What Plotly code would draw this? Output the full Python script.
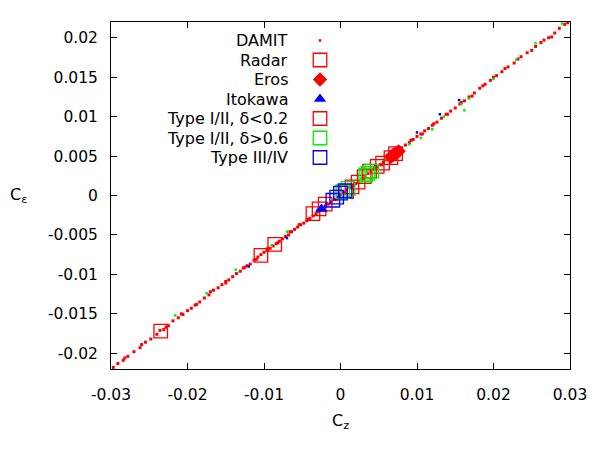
import plotly.graph_objects as go

# ---------------- data ----------------
damit_red_x = [-0.0297, -0.0291, -0.0284, -0.0278, -0.0270, -0.0262, -0.0255, -0.0248, -0.0240, -0.0236,
               -0.0231, -0.0225, -0.0219, -0.0212, -0.0206, -0.0200, -0.0195, -0.0190, -0.0184, -0.0178,
               -0.0172, -0.0166, -0.0160, -0.0155, -0.0150, -0.0146, -0.0141, -0.0136, -0.0131, -0.0127,
               -0.0122, -0.0118, -0.0113, -0.0108, -0.0104, -0.0100, -0.0096, -0.0092, -0.0088, -0.0084,
               -0.0080, -0.0076, -0.0072, -0.0068, -0.0064, -0.0060, -0.0056, -0.0052, -0.0048, -0.0044,
               -0.0040, -0.0036, -0.0032, -0.0028, -0.0024, -0.0020, -0.0016, -0.0012, -0.0008, -0.0004,
               0.0000, 0.0004, 0.0008, 0.0012, 0.0016, 0.0020, 0.0024, 0.0028, 0.0032, 0.0036,
               0.0040, 0.0044, 0.0048, 0.0052, 0.0056, 0.0060, 0.0064, 0.0068, 0.0072, 0.0076,
               0.0080, 0.0085, 0.0090, 0.0095, 0.0100, 0.0105, 0.0110, 0.0115, 0.0120, 0.0126,
               0.0132, 0.0138, 0.0144, 0.0150, 0.0156, 0.0162, 0.0168, 0.0175, 0.0182, 0.0189,
               0.0196, 0.0204, 0.0211, 0.0219, 0.0227, 0.0236, 0.0244, 0.0255, 0.0266, 0.0272,
               0.0280, 0.0286, 0.0293, 0.0297,
               -0.0125, -0.0110, -0.0095, -0.0082, -0.0066, -0.0054, -0.0042, -0.0030, -0.0018, -0.0006,
               0.0006, 0.0018, 0.0030, 0.0042, 0.0054, 0.0066, 0.0078, 0.0092, 0.0107, 0.0122,
               0.0140, 0.0158, 0.0172, 0.0186, 0.0200, 0.0215, 0.0232, 0.0250, 0.0262, 0.0276,
               -0.0150, -0.0170, -0.0188, -0.0208, -0.0228, -0.0260, -0.0282]
damit_red_y = [-0.0218, -0.0213, -0.0209, -0.0204, -0.0198, -0.0193, -0.0186, -0.0182, -0.0176, -0.0171,
               -0.0170, -0.0165, -0.0159, -0.0155, -0.0151, -0.0146, -0.0143, -0.0139, -0.0135, -0.0130,
               -0.0126, -0.0120, -0.0117, -0.0113, -0.0109, -0.0107, -0.0103, -0.0099, -0.0096, -0.0092,
               -0.0089, -0.0087, -0.0082, -0.0078, -0.0075, -0.0072, -0.0070, -0.0067, -0.0064, -0.0061,
               -0.0058, -0.0055, -0.0052, -0.0050, -0.0046, -0.0043, -0.0040, -0.0037, -0.0035, -0.0032,
               -0.0029, -0.0026, -0.0023, -0.0020, -0.0017, -0.0014, -0.0011, -0.0008, -0.0005, -0.0002,
               0.0001, 0.0004, 0.0007, 0.0010, 0.0012, 0.0015, 0.0018, 0.0021, 0.0025, 0.0028,
               0.0031, 0.0034, 0.0036, 0.0039, 0.0042, 0.0045, 0.0048, 0.0051, 0.0054, 0.0056,
               0.0059, 0.0064, 0.0067, 0.0071, 0.0075, 0.0078, 0.0082, 0.0085, 0.0089, 0.0093,
               0.0098, 0.0103, 0.0107, 0.0111, 0.0116, 0.0120, 0.0125, 0.0130, 0.0136, 0.0141,
               0.0146, 0.0152, 0.0157, 0.0163, 0.0168, 0.0176, 0.0181, 0.0189, 0.0197, 0.0200,
               0.0206, 0.0212, 0.0217, 0.0219,
               -0.0091, -0.0081, -0.0067, -0.0060, -0.0046, -0.0037, -0.0030, -0.0020, -0.0010, -0.0005,
               0.0003, 0.0015, 0.0021, 0.0033, 0.0039, 0.0051, 0.0057, 0.0070, 0.0078, 0.0091,
               0.0103, 0.0118, 0.0126, 0.0139, 0.0150, 0.0161, 0.0173, 0.0184, 0.0194, 0.0201,
               -0.0111, -0.0122, -0.0138, -0.0150, -0.0167, -0.0189, -0.0206]

damit_green_x = [-0.0216, -0.0175, -0.0137, -0.0090, -0.0070, -0.0030, 0.0010, 0.0035, 0.0060, 0.0090,
                 0.0105, 0.0120, 0.0135, 0.0162, 0.0158, 0.0168, 0.0200, 0.0230, 0.0255, 0.0290]
damit_green_y = [-0.0152, -0.0124, -0.0094, -0.0063, -0.0046, -0.0018, 0.0010, 0.0030, 0.0046, 0.0065,
                 0.0073, 0.0084, 0.0100, 0.0108, 0.0116, 0.0123, 0.0148, 0.0172, 0.0193, 0.0218]

damit_blue_x = [-0.0120, -0.0070, -0.0020, 0.0045, 0.0100, 0.0130, 0.0155]
damit_blue_y = [-0.0090, -0.0054, -0.0013, 0.0037, 0.0080, 0.0103, 0.0121]

radar_x = [-0.0235, -0.0104, -0.0086, -0.0036, 0.0015, 0.0031, 0.0048, 0.0066]
radar_y = [-0.0172, -0.0076, -0.0062, -0.0023, 0.0011, 0.0024, 0.0037, 0.0048]

eros_x = [0.0066, 0.0068, 0.0070, 0.0073, 0.0076]
eros_y = [0.0049, 0.0051, 0.0052, 0.0054, 0.0056]

itokawa_x = [-0.0025]
itokawa_y = [-0.0017]

type12_low_x = [-0.0028, -0.0020, 0.0008, 0.0023, 0.0038, 0.0055, 0.0072]
type12_low_y = [-0.0017, -0.0011, 0.0005, 0.0017, 0.0031, 0.0041, 0.0053]

type12_high_x = [0.0003, 0.0010, 0.0033, 0.0036, 0.0041]
type12_high_y = [0.0005, 0.0009, 0.0026, 0.0028, 0.0031]

type34_x = [-0.0010, -0.0005, 0.0000, 0.0006]
type34_y = [-0.0006, -0.0002, 0.0003, 0.0006]

legend_labels = ["DAMIT", "Radar", "Eros", "Itokawa",
                 "Type I/II, δ<0.2", "Type I/II, δ>0.6", "Type III/IV"]

x_ticks = [-0.03, -0.02, -0.01, 0, 0.01, 0.02, 0.03]
x_ticktext = ["-0.03", "-0.02", "-0.01", "0", "0.01", "0.02", "0.03"]
y_ticks = [-0.02, -0.015, -0.01, -0.005, 0, 0.005, 0.01, 0.015, 0.02]
y_ticktext = ["-0.02", "-0.015", "-0.01", "-0.005", "0", "0.005", "0.01", "0.015", "0.02"]

# ---------------- styling ----------------
RED = "#ff0000"
GREEN = "#00ee00"
BLUE = "#0000ff"
FONT = "DejaVu Sans"
FS = 15.5

fig = go.Figure()

def add(x, y, **marker):
    fig.add_trace(go.Scatter(x=x, y=y, mode="markers", marker=marker,
                             showlegend=False, hoverinfo="skip"))

add(damit_red_x, damit_red_y, symbol="square", size=3, color=RED, line=dict(width=0))
add(damit_green_x, damit_green_y, symbol="square", size=2.5, color=GREEN, line=dict(width=0))
add(damit_blue_x, damit_blue_y, symbol="square", size=2.5, color=BLUE, line=dict(width=0))

open_sq = lambda c: dict(symbol="square-open", size=13.5, color=c, line=dict(width=1.3, color=c))
add(radar_x, radar_y, **open_sq(RED))
add(type12_low_x, type12_low_y, **open_sq(RED))
add(type12_high_x, type12_high_y, **open_sq(GREEN))
add(type34_x, type34_y, **open_sq(BLUE))
add(eros_x, eros_y, symbol="diamond", size=11, color=RED, line=dict(width=0))
add(itokawa_x, itokawa_y, symbol="triangle-up", size=11, color=BLUE, line=dict(width=0))

# ---------------- custom legend (gnuplot style: text right, symbol left) ----------------
L, R, T, B = 111, 30, 22, 81
W, H = 600, 450
leg_y0, leg_dy = 40.5, 19.5
sym_x = 320
text_right = 290
leg_syms = [
    dict(symbol="square", size=2.5, color=RED, line=dict(width=0)),
    open_sq(RED),
    dict(symbol="diamond", size=11, color=RED, line=dict(width=0)),
    dict(symbol="triangle-up", size=11, color=BLUE, line=dict(width=0)),
    open_sq(RED),
    open_sq(GREEN),
    open_sq(BLUE),
]
for i, (lab, mk) in enumerate(zip(legend_labels, leg_syms)):
    yy = leg_y0 + i * leg_dy
    fig.add_trace(go.Scatter(x=[sym_x], y=[yy], mode="markers", marker=mk,
                             xaxis="x2", yaxis="y2", showlegend=False, hoverinfo="skip"))
    fig.add_annotation(x=(text_right - L) / (W - L - R), y=1 - (yy - T) / (H - T - B),
                       xref="paper", yref="paper", text=lab, showarrow=False,
                       xanchor="right", yanchor="middle", font=dict(family=FONT, size=16, color="black"))

# axis titles
fig.add_annotation(x=(340 - L) / (W - L - R), y=1 - (421 - T) / (H - T - B), xref="paper", yref="paper",
                   text="C<sub>z</sub>", showarrow=False, xanchor="center", yanchor="middle",
                   font=dict(family=FONT, size=16, color="black"))
fig.add_annotation(x=(18 - L) / (W - L - R), y=1 - (195 - T) / (H - T - B), xref="paper", yref="paper",
                   text="C<sub>ε</sub>", showarrow=False, xanchor="center", yanchor="middle",
                   font=dict(family=FONT, size=16, color="black"))

axis_common = dict(showline=True, linecolor="black", linewidth=1, mirror="allticks",
                   ticks="inside", ticklen=6, tickwidth=1, tickcolor="black",
                   showgrid=False, zeroline=False,
                   tickfont=dict(family=FONT, size=FS, color="black"))

fig.update_layout(
    width=W, height=H,
    margin=dict(l=L, r=R, t=T, b=B, pad=0),
    paper_bgcolor="white", plot_bgcolor="white",
    font=dict(family=FONT, size=FS, color="black"),
    xaxis=dict(range=[-0.03, 0.03], tickvals=x_ticks, ticktext=x_ticktext,
               ticklabelstandoff=11, **axis_common),
    yaxis=dict(range=[-0.022, 0.022], tickvals=y_ticks, ticktext=y_ticktext,
               ticklabelstandoff=9, **axis_common),
    xaxis2=dict(range=[L, W - R], overlaying="x", visible=False, fixedrange=True),
    yaxis2=dict(range=[H - B, T], overlaying="y", visible=False, fixedrange=True),
    showlegend=False,
)

fig.write_html("out.html")
